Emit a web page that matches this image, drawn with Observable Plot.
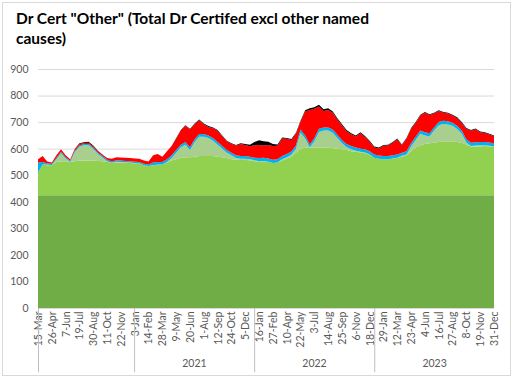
<!DOCTYPE html>
<html><head><meta charset="utf-8">
<script src="https://cdn.jsdelivr.net/npm/d3@7"></script>
<script src="https://cdn.jsdelivr.net/npm/@observablehq/plot@0.6"></script>
<style>
body{margin:0;background:#fff;}
#wrap{position:relative;width:515px;height:379px;overflow:hidden;font-family:Lato,"Open Sans",sans-serif;background:#fff;}
#frame{position:absolute;left:2px;top:2px;width:509px;height:374px;border:1px solid #d9d9d9;box-sizing:border-box;}
#title{position:absolute;left:16px;top:8px;font-weight:bold;font-size:15.5px;line-height:20px;color:#000;white-space:nowrap;}
#chart{position:absolute;left:0;top:50px;}
</style></head><body>
<div id="wrap"><div id="frame"></div>
<div id="title">Dr Cert "Other" (Total Dr Certifed excl other named<br>causes)</div>
<div id="chart"></div></div>
<script>
// fortnightly points from 15-Mar-2020 to 31-Dec-2023
const startDate = "2020-03-15";
const baseLevel = 425;
const lgTop = [
510,540,538,538,550,552,553,550,553,555,
555,555,555,554,553,552,546,548,548,547,
546,545,545,538,535,537,540,540,548,555,
560,565,568,568,570,572,572,572,572,570,
568,565,560,558,557,557,556,553,552,552,
550,546,548,555,562,570,585,600,603,603,
603,603,603,603,602,600,598,595,590,588,
586,584,576,566,562,560,560,562,565,570,
575,590,605,612,618,620,622,625,626,626,
626,625,622,615,608,608,608,610,608,606];
const sageTop = [
510,540,540,538,560,583,563,550,587,607,
613,613,599,580,567,553,547,551,550,549,
548,546,545,538,535,538,540,540,550,565,
585,605,615,595,625,645,645,640,630,615,
600,585,575,565,562,562,560,556,553,554,
551,546,548,560,568,577,600,660,638,604,
628,663,668,668,660,640,620,606,598,592,
588,586,578,566,562,560,560,563,566,573,
578,608,633,656,650,646,668,688,693,691,
686,674,656,623,610,612,613,613,611,608];
const blueTop = [
548,550,545,543,565,588,568,555,592,612,
618,618,604,585,572,558,552,556,555,554,
553,551,550,543,540,548,550,550,560,575,
595,615,625,605,635,655,655,650,640,625,
610,595,585,575,572,572,570,566,565,566,
563,558,560,572,580,589,612,672,650,616,
640,675,680,680,672,652,632,618,610,604,
600,598,590,578,574,572,572,575,578,585,
590,620,645,668,662,658,680,700,705,703,
698,686,668,635,622,624,625,625,623,620];
const redTop = [
560,572,552,548,575,598,575,560,599,618,
621,622,609,590,577,565,562,568,567,566,
565,563,562,555,552,575,580,570,590,609,
638,668,686,673,692,707,692,682,677,667,
647,628,618,612,617,614,609,613,614,612,
614,610,611,638,637,633,657,701,740,746,
750,759,742,746,735,710,687,666,654,646,
658,644,626,604,601,611,612,622,635,613,
637,675,697,725,735,727,732,742,735,732,
725,715,697,675,667,673,662,659,653,647];
const blackTop = [
560,572,552,548,575,598,575,560,600,620,
624,626,612,592,578,565,562,568,567,566,
565,563,562,555,552,575,580,570,590,610,
640,670,688,675,695,710,695,685,680,670,
650,630,620,614,620,618,615,625,632,628,
626,618,616,642,640,636,660,705,745,752,
756,765,748,752,740,715,692,670,658,650,
662,648,630,608,604,614,615,625,638,616,
640,678,700,728,738,730,735,745,738,735,
728,718,700,678,670,676,665,662,656,650];
const tickDates = ["2020-03-15","2020-04-26","2020-06-07","2020-07-19","2020-08-30","2020-10-11","2020-11-22",
"2021-01-03","2021-02-14","2021-03-28","2021-05-09","2021-06-20","2021-08-01","2021-09-12","2021-10-24","2021-12-05",
"2022-01-16","2022-02-27","2022-04-10","2022-05-22","2022-07-03","2022-08-14","2022-09-25","2022-11-06","2022-12-18",
"2023-01-29","2023-03-12","2023-04-23","2023-06-04","2023-07-16","2023-08-27","2023-10-08","2023-11-19","2023-12-31"];
const yearBreaks = ["2021-01-01","2022-01-01","2023-01-01"];
const yearLabels = ["2021","2022","2023"];
const yearMids = ["2021-07-02","2022-07-02","2023-07-02"];
const yTicks = [0,100,200,300,400,500,600,700,800,900];

const layerColors = ["#70AD47","#92D050","#A9CF8F","#00B0F0","#FF0000","#000000"];

const t0 = new Date(startDate);
const rows = blackTop.map((v,i)=>({
  date: d3.utcDay.offset(t0, 14*i),
  tops: [baseLevel, lgTop[i], sageTop[i], blueTop[i], redTop[i], blackTop[i]]
}));

const areas = layerColors.map((c,k)=>Plot.areaY(rows,{
  x:"date",
  y1: d => k===0 ? 0 : d.tops[k-1],
  y2: d => d.tops[k],
  fill:c
}));

const fmt = d3.utcFormat("%-d-%b");
const chart = Plot.plot({
  width:515, height:329,
  marginLeft:38, marginRight:21, marginTop:19, marginBottom:71,
  style:{fontFamily:"Lato, 'Open Sans', sans-serif", fontSize:"10px", color:"#595959", background:"transparent"},
  x:{type:"utc", domain:[new Date("2020-03-15"), new Date("2023-12-31")]},
  y:{domain:[0,900]},
  marks:[
    Plot.gridY(yTicks,{stroke:"#d9d9d9", strokeOpacity:1}),
    ...areas,
    Plot.axisY(yTicks,{tickSize:0, tickPadding:10, label:null, fill:"#595959", fontSize:10.5}),
    Plot.axisX(tickDates.map(s=>new Date(s)),{tickSize:0, tickPadding:3, tickRotate:-90, tickFormat:fmt, label:null, fill:"#595959", fontSize:10.5}),
    Plot.ruleX([new Date("2020-03-15"), ...yearBreaks.map(s=>new Date(s))],{y1:0, y2:-242, stroke:"#bfbfbf"}),
    Plot.text(yearLabels,{x:(d,i)=>new Date(yearMids[i]), y:-207, text:d=>d, fill:"#595959", fontSize:10.5})
  ]
});
document.getElementById("chart").appendChild(chart);
</script>
</body></html>
